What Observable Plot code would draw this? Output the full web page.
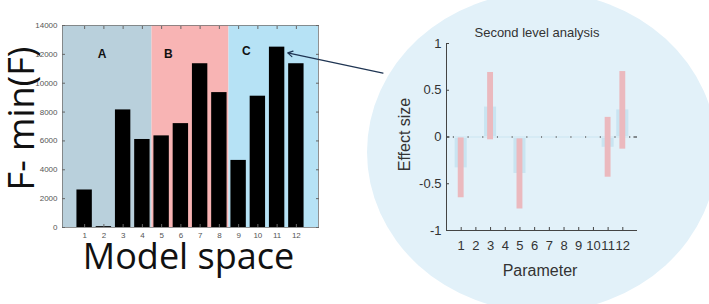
<!DOCTYPE html>
<html><head><meta charset="utf-8">
<script src="https://cdn.jsdelivr.net/npm/d3@7"></script>
<script src="https://cdn.jsdelivr.net/npm/@observablehq/plot@0.6"></script>
<style>
html,body{margin:0;padding:0;background:#fff;overflow:hidden;}
#wrap{position:relative;width:709px;height:304px;overflow:hidden;}
#ellipse{position:absolute;left:367px;top:-8px;width:350px;height:320px;border-radius:50%;background:#e2f1f9;}
#right{position:absolute;left:360px;top:0;}
#left{position:absolute;left:0;top:0;}
</style></head><body>
<div id="wrap"><div id="ellipse"></div><div id="right"></div><div id="left"></div></div>
<script>
// ---- Left chart data: model space ----
const models = [1, 2, 3, 4, 5, 6, 7, 8, 9, 10, 11, 12];
const fValues = [2600, 60, 8150, 6100, 6350, 7200, 11350, 9350, 4650, 9100, 12500, 11350];
const fTicks = [0, 2000, 4000, 6000, 8000, 10000, 12000, 14000];
const regionNames = ["A", "B", "C"];
const regionEdges = [4.5, 8.5];
const regionColors = ["#b9d0dc", "#f8b4b4", "#b6e2f5"];
const regionLabelX = [1.9, 5.35, 9.4];
const regionLabelY = [12000, 12000, 12250];
const arrowFromModel = 16.5, arrowFromF = 10700, arrowToModel = 11.55, arrowToF = 12100;

// ---- Right chart data: second level analysis ----
const params = [1, 2, 3, 4, 5, 6, 7, 8, 9, 10, 11, 12];
const effectSize = [-0.33, 0, 0.32, 0, -0.39, 0, 0, 0, 0, 0, -0.11, 0.29];
const ciLow = [-0.65, null, -0.03, null, -0.77, null, null, null, null, null, -0.43, -0.13];
const ciHigh = [-0.01, null, 0.69, null, -0.02, null, null, null, null, null, 0.21, 0.70];
const effectTicks = [-1, -0.5, 0, 0.5, 1];

const centered = {textAnchor: "middle", lineAnchor: "middle"};

// ---- Left chart ----
const xDom = [-0.15, 13.15];
const yDom = [0, 14000];
const regions = regionNames.map((name, i) => ({
  name,
  x1: i === 0 ? xDom[0] : regionEdges[i - 1],
  x2: i === regionNames.length - 1 ? xDom[1] : regionEdges[i],
  color: regionColors[i],
  lx: regionLabelX[i],
  ly: regionLabelY[i]
}));
const bars = models.map((m, i) => ({m, f: fValues[i]}));
const arrowLink = [{x1: arrowFromModel, y1: arrowFromF, x2: arrowToModel, y2: arrowToF}];

const left = Plot.plot({
  width: 400, height: 304,
  marginLeft: 62, marginRight: 82, marginTop: 25, marginBottom: 77,
  style: {fontFamily: "'Liberation Sans', Arial, sans-serif", background: "transparent", overflow: "visible"},
  x: {domain: xDom},
  y: {domain: yDom},
  color: {type: "identity"},
  marks: [
    Plot.rect(regions, {x1: "x1", x2: "x2", y1: yDom[0], y2: yDom[1], fill: "color"}),
    Plot.rect(bars, {x1: d => d.m - 0.4, x2: d => d.m + 0.4, y1: 0, y2: "f", fill: "#000"}),
    Plot.text(regions, {x: "lx", y: "ly", text: "name", fontWeight: "bold", fontSize: 12, fill: "#111", ...centered}),
    Plot.frame({stroke: "#777", strokeWidth: 0.8}),
    Plot.axisY({ticks: fTicks, anchor: "left", tickSize: 0, tickPadding: 5, fontSize: 8, fill: "#555", label: null, tickFormat: d => String(d)}),
    Plot.axisY({ticks: fTicks, anchor: "left", tickSize: -3, stroke: "#666", label: null, tickFormat: () => ""}),
    Plot.axisY({ticks: fTicks, anchor: "right", tickSize: -3, stroke: "#666", label: null, tickFormat: () => ""}),
    Plot.axisX({ticks: models, anchor: "bottom", tickSize: 0, tickPadding: 5, fontSize: 8, fill: "#555", label: null}),
    Plot.axisX({ticks: models, anchor: "bottom", tickSize: -3, stroke: "#666", label: null, tickFormat: () => ""}),
    Plot.axisX({ticks: models, anchor: "top", tickSize: -3, stroke: "#666", label: null, tickFormat: () => ""}),
    Plot.text(["F- min(F)"], {text: d => d, frameAnchor: "left", rotate: -90, dx: -40, dy: -8, fontSize: 36, fontFamily: "'Open Sans', sans-serif", fill: "#111", ...centered}),
    Plot.text(["Model space"], {text: d => d, frameAnchor: "bottom", dx: -2, dy: 30, fontSize: 36, fontFamily: "'Open Sans', sans-serif", fill: "#111", ...centered}),
    Plot.arrow(arrowLink, {x1: "x1", y1: "y1", x2: "x2", y2: "y2", stroke: "#1f3553", strokeWidth: 1.2, headLength: 7, clip: false})
  ]
});
document.getElementById("left").append(left);

// ---- Right chart ----
const effects = params.map((p, i) => ({p, e: effectSize[i], lo: ciLow[i], hi: ciHigh[i]}));
const right = Plot.plot({
  width: 349, height: 304,
  marginLeft: 86, marginRight: 72, marginTop: 43, marginBottom: 74,
  style: {fontFamily: "'Liberation Sans', Arial, sans-serif", background: "transparent", overflow: "visible"},
  x: {domain: [0, 13]},
  y: {domain: [-1, 1]},
  marks: [
    Plot.ruleY([0], {stroke: "#222", strokeWidth: 1.1, strokeDasharray: "7,3.3,1.2,3.19", strokeDashoffset: 3.5}),
    Plot.rect(effects, {x1: d => d.p - 0.41, x2: d => d.p + 0.41, y1: 0, y2: "e", fill: "#c9e4f1"}),
    Plot.ruleY(effects, {x1: d => d.p - 0.41, x2: d => d.p + 0.41, y: 0, stroke: "#d6ebf5", strokeWidth: 2}),
    Plot.rect(effects.filter(d => d.lo != null), {x1: d => d.p - 0.2, x2: d => d.p + 0.2, y1: "lo", y2: "hi", fill: "#ebb9be"}),
    Plot.ruleX([0], {stroke: "#444", strokeWidth: 1}),
    Plot.ruleY([-1], {stroke: "#444", strokeWidth: 1}),
    Plot.axisY({ticks: effectTicks, anchor: "left", tickSize: 0, tickPadding: 5, fontSize: 13, fill: "#333", label: null, tickFormat: d => String(d)}),
    Plot.axisY({ticks: effectTicks, anchor: "left", tickSize: -3, stroke: "#444", label: null, tickFormat: () => ""}),
    Plot.axisX({ticks: params, anchor: "bottom", tickSize: 0, tickPadding: 10, fontSize: 13, fill: "#333", label: null}),
    Plot.axisX({ticks: params, anchor: "bottom", tickSize: -3, stroke: "#444", label: null, tickFormat: () => ""}),
    Plot.text(["Second level analysis"], {text: d => d, frameAnchor: "top", dx: -5, dy: -11, fontSize: 13, fill: "#333", ...centered}),
    Plot.text(["Effect size"], {text: d => d, frameAnchor: "left", rotate: -90, dx: -42, dy: -2.5, fontSize: 16, fill: "#333", ...centered}),
    Plot.text(["Parameter"], {text: d => d, frameAnchor: "bottom", dx: -2, dy: 40, fontSize: 16, fill: "#333", ...centered})
  ]
});
document.getElementById("right").append(right);
</script>
</body></html>
